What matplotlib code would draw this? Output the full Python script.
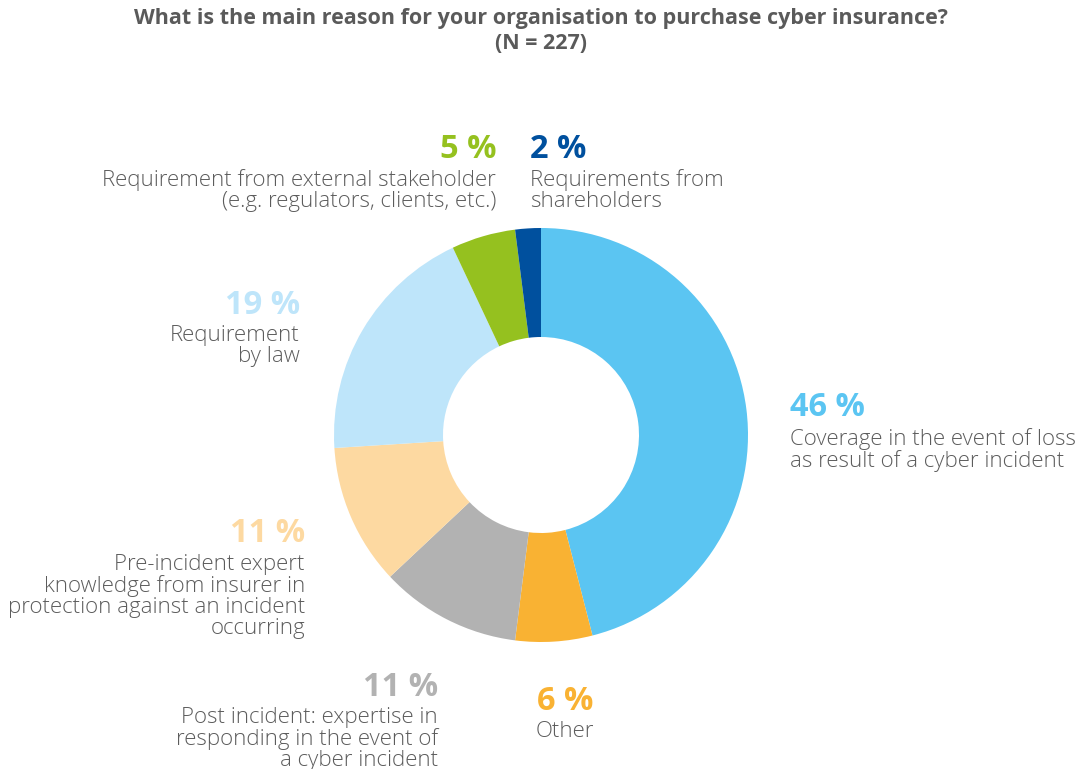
import matplotlib.pyplot as plt

plt.rcParams['font.family'] = ['Open Sans', 'DejaVu Sans']

# survey shares, clockwise from 12 o'clock
categories = [
    'Coverage in the event of loss\nas result of a cyber incident',
    'Other',
    'Post incident: expertise in\nresponding in the event of\na cyber incident',
    'Pre-incident expert\nknowledge from insurer in\nprotection against an incident\noccurring',
    'Requirement\nby law',
    'Requirement from external stakeholder\n(e.g. regulators, clients, etc.)',
    'Requirements from\nshareholders',
]
shares = [46, 6, 11, 11, 19, 5, 2]
colors = ['#5bc5f2', '#f9b233', '#b2b2b2', '#fdd9a1', '#bee5fa', '#95c11f', '#00509e']

title = 'What is the main reason for your organisation to purchase cyber insurance?\n(N = 227)'

W, H = 1079, 769
fig = plt.figure(figsize=(W / 100, H / 100), dpi=100)
ax = fig.add_axes([0, 0, 1, 1])

ax.pie(shares, colors=colors, center=(541, H - 435), radius=207,
       startangle=90, counterclock=False,
       wedgeprops=dict(width=109, linewidth=0))
ax.set_xlim(0, W)
ax.set_ylim(0, H)
ax.axis('off')

ax.text(541, H - 8, title, ha='center', va='top', fontsize=15.5, fontweight='bold',
        color='#5a5a5a', linespacing=1.22)

# (x, y of percent, alignment) for each label block
label_pos = [
    (790, 408, 'left'),
    (565, 701, 'center'),
    (438, 687, 'right'),
    (305, 534, 'right'),
    (300, 305, 'right'),
    (496, 149, 'right'),
    (530, 149, 'left'),
]
text_grey = '#5c5c5c'
for cat, val, col, (x, y, ha) in zip(categories, shares, colors, label_pos):
    ax.text(x, H - y, f'{val} %', ha=ha, va='center', fontsize=23.5,
            fontweight='bold', color=col)
    ax.text(x, H - y - 20, cat, ha=ha, va='top', fontsize=16, fontweight='light',
            color=text_grey, linespacing=1.0, multialignment=ha)

fig.savefig('out.png', dpi=100)
